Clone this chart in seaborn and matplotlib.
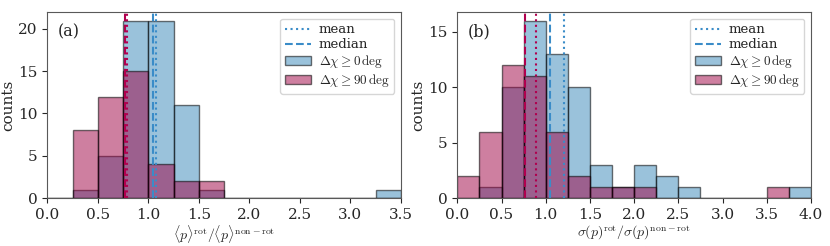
import numpy as np
import pandas as pd
import matplotlib
matplotlib.use('Agg')
import matplotlib.pyplot as plt
import seaborn as sns
from matplotlib.lines import Line2D
from matplotlib.patches import Patch

# bin edges (width 0.25)
edges_a = [i * 0.25 for i in range(15)]
edges_b = [i * 0.25 for i in range(17)]

# panel (a): <p>^rot / <p>^non-rot, counts per bin
counts_a_all = [0, 1, 5, 21, 21, 11, 1, 0, 0, 0, 0, 0, 0, 1]
counts_a_90 = [0, 8, 12, 15, 4, 2, 2, 0, 0, 0, 0, 0, 0, 0]
# panel (b): sigma(p)^rot / sigma(p)^non-rot
counts_b_all = [0, 1, 10, 16, 13, 10, 3, 1, 3, 2, 1, 0, 0, 0, 0, 1]
counts_b_90 = [2, 6, 12, 11, 6, 2, 1, 1, 1, 0, 0, 0, 0, 0, 1, 0]

# mean / median lines
mean_a = {'all': 1.08, '90': 0.79}
median_a = {'all': 1.05, '90': 0.77}
mean_b = {'all': 1.21, '90': 0.89}
median_b = {'all': 1.05, '90': 0.77}

blue_fill = '#3787b9'
red_fill = '#9e0042'
blue_line = '#3a8cc8'
red_line = '#b0004e'
edge = (0, 0, 0, 0.55)

sns.set_style('ticks')
plt.rcParams['font.family'] = ['DejaVu Serif']
plt.rcParams['mathtext.fontset'] = 'cm'
plt.rcParams['axes.edgecolor'] = '0.35'

fig = plt.figure(figsize=(8.3, 2.46), dpi=100)
ax1 = fig.add_axes([0.057, 0.195, 0.426, 0.756])
ax2 = fig.add_axes([0.551, 0.195, 0.426, 0.756])


def panel(ax, edges, c_all, c_90, means, medians, xlabel, tag, xmax, ymax, yticks):
    e = np.array(edges)
    centers = (e[:-1] + e[1:]) / 2
    df = pd.DataFrame({'x': np.concatenate([centers, centers]),
                       'w': np.concatenate([c_all, c_90]).astype(float),
                       'sel': ['all'] * len(centers) + ['90'] * len(centers)})
    for key, col in [('all', blue_fill), ('90', red_fill)]:
        sub = df[df.sel == key]
        sns.histplot(data=sub, x='x', weights='w', bins=list(edges), ax=ax,
                     facecolor=col, alpha=None, edgecolor=edge, linewidth=1.0)
    for p in ax.patches:
        fc = p.get_facecolor()
        p.set_facecolor((fc[0], fc[1], fc[2], 0.5))
    for key, col in [('all', blue_line), ('90', red_line)]:
        ax.axvline(means[key], color=col, ls=':', lw=1.5)
        ax.axvline(medians[key], color=col, ls='--', lw=1.5)
    ax.set_xlim(0, xmax)
    ax.set_ylim(0, ymax)
    ax.set_yticks(yticks)
    ax.set_xlabel(xlabel, fontsize=10, labelpad=1)
    ax.set_ylabel('counts', fontsize=11, labelpad=2)
    ax.tick_params(labelsize=11)
    ax.text(0.03, 0.87, tag, transform=ax.transAxes, fontsize=11.5)
    handles = [Line2D([], [], color=blue_line, ls=':', lw=1.5),
               Line2D([], [], color=blue_line, ls='--', lw=1.5),
               Patch(facecolor=(0.216, 0.529, 0.725, 0.5), edgecolor=edge),
               Patch(facecolor=(0.62, 0.0, 0.26, 0.5), edgecolor=edge)]
    labels = ['mean', 'median', r'$\Delta\chi \geq 0\,\mathrm{deg}$',
              r'$\Delta\chi \geq 90\,\mathrm{deg}$']
    ax.legend(handles, labels, loc='upper right', fontsize=9.5,
              handlelength=2.0, labelspacing=0.15, borderpad=0.35,
              handletextpad=0.6)


panel(ax1, edges_a, counts_a_all, counts_a_90, mean_a, median_a,
      r'$\langle p\rangle^{\rm rot}/\langle p\rangle^{\rm non-rot}$', '(a)',
      3.5, 22, [0, 5, 10, 15, 20])
ax1.set_xticks(np.arange(0, 3.51, 0.5))
panel(ax2, edges_b, counts_b_all, counts_b_90, mean_b, median_b,
      r'$\sigma(p)^{\rm rot}/\sigma(p)^{\rm non-rot}$', '(b)',
      4.0, 16.8, [0, 5, 10, 15])
ax2.set_xticks(np.arange(0, 4.01, 0.5))

fig.savefig('out.png', dpi=100)
